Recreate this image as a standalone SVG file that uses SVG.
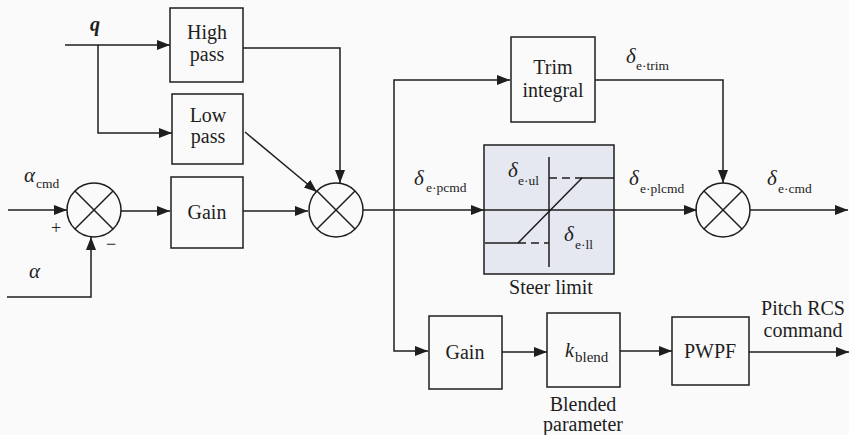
<svg xmlns="http://www.w3.org/2000/svg" width="849" height="435" viewBox="0 0 849 435" font-family="'Liberation Serif', 'DejaVu Serif', serif">
<style>
.box{fill:none;stroke:#1e1e1e;stroke-width:1.5}
.sl{fill:#e5e8f1;stroke:#1e1e1e;stroke-width:1.5}
.sum{fill:none;stroke:#1e1e1e;stroke-width:1.5}
.w{fill:none;stroke:#1e1e1e;stroke-width:1.5}
.ar{fill:none;stroke:#1e1e1e;stroke-width:1.5;marker-end:url(#ah)}
.dash{fill:none;stroke:#1e1e1e;stroke-width:1.5;stroke-dasharray:8,5}
text{font-family:'Liberation Serif','DejaVu Serif',serif;font-size:20px;fill:#1e1e1e}
.c{text-anchor:middle}
.gk{font-style:italic;font-size:21px}
.sub{font-size:13.5px}
</style>
<defs>
<marker id="ah" markerUnits="userSpaceOnUse" markerWidth="14" markerHeight="11" refX="13" refY="5" orient="auto">
<path d="M0,0 L13,5 L0,10 z" fill="#1e1e1e"/>
</marker>
</defs>
<rect x="0" y="0" width="849" height="435" fill="#fafafa"/>

<g id="connectors">
<path class="ar" d="M65,45 H170"/>
<path class="ar" d="M98,45 V133 H172"/>
<path class="ar" d="M243,48 H340 V183"/>
<path class="ar" d="M245,132 L317,192"/>
<path class="ar" d="M8,210 H67"/>
<path class="ar" d="M7,297 H91 V237"/>
<path class="ar" d="M121,211 H170"/>
<path class="ar" d="M243,211 H308"/>
<path class="ar" d="M363,210 H484"/>
<path class="ar" d="M394,210 V80 H510"/>
<path class="ar" d="M394,210 V351 H428"/>
<path class="ar" d="M614,210 H697"/>
<path class="ar" d="M595,80 H723 V183"/>
<path class="ar" d="M750,210 H848"/>
<path class="ar" d="M502,352 H547"/>
<path class="ar" d="M620,351 H672"/>
<path class="ar" d="M749,352 H849"/>
</g>

<g id="q-label"><text x="90" y="31" style="font-style:italic;font-weight:bold">q</text></g>

<g id="high-pass">
<rect class="box" x="170" y="8" width="73" height="74"/>
<text class="c" x="207" y="39">High</text>
<text class="c" x="207" y="61">pass</text>
</g>

<g id="low-pass">
<rect class="box" x="172" y="94" width="71" height="70"/>
<text class="c" x="208" y="122">Low</text>
<text class="c" x="208" y="143">pass</text>
</g>

<g id="sum1">
<circle class="sum" cx="94" cy="210" r="27"/>
<path class="w" d="M75,191 L113,229 M113,191 L75,229"/>
<text x="51" y="234" style="font-size:18px">+</text>
<text x="106" y="250" style="font-size:18px">−</text>
</g>

<g id="alpha-cmd-label"><text x="24" y="182" class="gk">α</text><text x="36" y="188" class="sub">cmd</text></g>
<g id="alpha-label"><text x="29" y="278" class="gk">α</text></g>

<g id="gain1">
<rect class="box" x="171" y="177" width="72" height="71"/>
<text class="c" x="207" y="219">Gain</text>
</g>

<g id="sum2">
<circle class="sum" cx="336" cy="210" r="27"/>
<path class="w" d="M317,191 L355,229 M355,191 L317,229"/>
</g>

<g id="d-epcmd-label"><text x="414" y="185" class="gk">δ</text><text x="426" y="192" class="sub">e·pcmd</text></g>

<g id="trim-integral">
<rect class="box" x="511" y="37" width="84" height="85"/>
<text class="c" x="553" y="74">Trim</text>
<text class="c" x="553" y="97">integral</text>
</g>

<g id="d-etrim-label"><text x="626" y="63" class="gk">δ</text><text x="636" y="70" class="sub">e·trim</text></g>

<g id="steer-limit">
<rect class="sl" x="484" y="145" width="130" height="129"/>
<path class="w" d="M484,210 H614"/>
<path class="w" d="M549,157 V267"/>
<path class="w" d="M485,243 H518 L582,178 H614"/>
<path class="dash" d="M518,243 H549"/>
<path class="dash" d="M549,178 H582"/>
<text x="508" y="177" class="gk">δ</text><text x="518" y="185" class="sub">e·ul</text>
<text x="564" y="241" class="gk">δ</text><text x="575" y="249" class="sub">e·ll</text>
<text class="c" x="551" y="294">Steer limit</text>
</g>

<g id="d-eplcmd-label"><text x="629" y="185" class="gk">δ</text><text x="640" y="193" class="sub">e·plcmd</text></g>

<g id="sum3">
<circle class="sum" cx="723" cy="210" r="27"/>
<path class="w" d="M704,191 L742,229 M742,191 L704,229"/>
</g>

<g id="d-ecmd-label"><text x="767" y="185" class="gk">δ</text><text x="778" y="193" class="sub">e·cmd</text></g>

<g id="gain2">
<rect class="box" x="429" y="316" width="73" height="73"/>
<text class="c" x="465" y="359">Gain</text>
</g>

<g id="k-blend">
<rect class="box" x="547" y="313" width="73" height="74"/>
<text x="565" y="357" style="font-style:italic">k</text><text x="575" y="362" class="sub" style="font-size:15px">blend</text>
<text class="c" x="583" y="411">Blended</text>
<text class="c" x="583" y="431">parameter</text>
</g>

<g id="pwpf">
<rect class="box" x="672" y="317" width="77" height="68"/>
<text class="c" x="710" y="358">PWPF</text>
</g>

<g id="pitch-rcs-label">
<text class="c" x="803" y="315">Pitch RCS</text>
<text class="c" x="803" y="337">command</text>
</g>
</svg>
